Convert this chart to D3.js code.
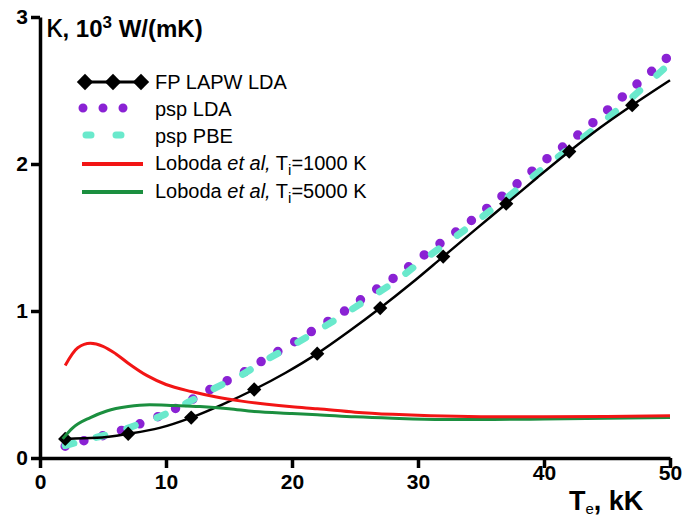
<!DOCTYPE html>
<html>
<head>
<meta charset="utf-8">
<script src="https://cdn.jsdelivr.net/npm/d3@7"></script>
<style>
    body { margin: 0; background: #fff; }
    svg { display: block; font-family: "Liberation Sans", Arial, sans-serif; }
</style>
</head>
<body>
<div id="chart"></div>
<script>
// ------------------------------------------------------------
// Data
// ------------------------------------------------------------
const xTicks = [0, 10, 20, 30, 40, 50];
const yTicks = [0, 1, 2, 3];

// FP LAPW LDA
const lapwX = [2, 4.5, 7, 9.5, 12, 14.5, 17, 19.5, 22, 24.5, 27, 29.5, 32, 34.5, 37, 39.5, 42, 44.5, 47, 50];
const lapwY = [0.13, 0.137, 0.165, 0.205, 0.275, 0.365, 0.466, 0.58, 0.71, 0.86, 1.02, 1.19, 1.37, 1.55, 1.73, 1.91, 2.085, 2.25, 2.40, 2.57];
const lapwMarkers = [2, 7, 12, 17, 22, 27, 32, 37, 42, 47];

// psp LDA / psp PBE
const pspX = [2, 4, 6, 8, 10, 12, 14, 16, 18, 20, 22, 24, 26, 28, 30, 32, 34, 36, 38, 40, 42, 44, 46, 48, 50];
const pspLdaY = [0.08, 0.13, 0.175, 0.235, 0.305, 0.395, 0.49, 0.575, 0.68, 0.78, 0.885, 0.99, 1.11, 1.22, 1.35, 1.475, 1.60, 1.735, 1.875, 2.02, 2.15, 2.29, 2.44, 2.59, 2.74];
const pspPbeY = [0.085, 0.13, 0.175, 0.235, 0.30, 0.39, 0.48, 0.565, 0.67, 0.765, 0.865, 0.97, 1.08, 1.19, 1.32, 1.445, 1.57, 1.70, 1.835, 1.975, 2.105, 2.24, 2.38, 2.53, 2.685];

// Loboda et al, Ti=1000 K
const lob1000X = [2, 3, 4, 5, 6, 7, 8.5, 10, 12, 14, 16, 18, 20, 22, 25, 28, 31, 35, 40, 45, 50];
const lob1000Y = [0.63, 0.75, 0.78, 0.76, 0.71, 0.645, 0.56, 0.50, 0.452, 0.415, 0.387, 0.365, 0.348, 0.335, 0.312, 0.297, 0.287, 0.281, 0.28, 0.282, 0.288];

// Loboda et al, Ti=5000 K
const lob5000X = [1.8, 2.6, 4, 5.3, 7, 8.7, 10.6, 12.7, 15, 17, 20, 22, 25, 28, 32, 36, 40, 45, 50];
const lob5000Y = [0.13, 0.205, 0.275, 0.32, 0.35, 0.362, 0.357, 0.35, 0.335, 0.316, 0.303, 0.295, 0.28, 0.27, 0.262, 0.262, 0.265, 0.27, 0.276];

// ------------------------------------------------------------
// Setup
// ------------------------------------------------------------
const width = 685, height = 519;

const svg = d3.select("#chart")
    .append("svg")
    .attr("width", width)
    .attr("height", height);

const xScale = d3.scaleLinear().domain([0, 50]).range([40, 670]);
const yScale = d3.scaleLinear().domain([0, 3]).range([458, 17]);

const line = d3.line()
    .x(d => xScale(d[0]))
    .y(d => yScale(d[1]))
    .curve(d3.curveMonotoneX);

const zip = (xs, ys) => xs.map((x, i) => [x, ys[i]]);

const colors = {
    lapw: "#000000",
    lda: "#8a22d4",
    pbe: "#6ae9cc",
    red: "#f21515",
    green: "#1b8f3f"
};

// ------------------------------------------------------------
// Axes
// ------------------------------------------------------------
const xAxis = svg.append("g")
    .attr("transform", `translate(0,${yScale(0)})`)
    .call(d3.axisBottom(xScale).tickValues(xTicks).tickFormat(d3.format("d"))
        .tickSize(10).tickPadding(6).tickSizeOuter(0));

const yAxis = svg.append("g")
    .attr("transform", `translate(${xScale(0)},0)`)
    .call(d3.axisLeft(yScale).tickValues(yTicks).tickFormat(d3.format("d"))
        .tickSize(9).tickPadding(3).tickSizeOuter(0));

[xAxis, yAxis].forEach(ax => {
    ax.select(".domain").attr("stroke", "#000").attr("stroke-width", 3.5);
    ax.selectAll(".tick line").attr("stroke", "#000").attr("stroke-width", 3.5);
    ax.selectAll(".tick text")
        .attr("fill", "#000")
        .attr("font-family", "'Liberation Sans', Arial, sans-serif")
        .attr("font-weight", "bold")
        .attr("font-size", "21px");
});
// the last two x labels sit a bit higher in the original
xAxis.selectAll(".tick text").filter(d => d >= 40).attr("dy", "0.3em");

// ------------------------------------------------------------
// Series
// ------------------------------------------------------------
svg.append("path")
    .datum(zip(pspX, pspLdaY))
    .attr("d", line)
    .attr("fill", "none")
    .attr("stroke", colors.lda)
    .attr("stroke-width", 9.5)
    .attr("stroke-linecap", "round")
    .attr("stroke-dasharray", "0,19.5");

svg.append("path")
    .datum(zip(pspX, pspPbeY))
    .attr("d", line)
    .attr("fill", "none")
    .attr("stroke", colors.pbe)
    .attr("stroke-width", 7)
    .attr("stroke-linecap", "round")
    .attr("stroke-dasharray", "9,23");

svg.append("path")
    .datum(zip(lapwX, lapwY))
    .attr("d", line)
    .attr("fill", "none")
    .attr("stroke", colors.lapw)
    .attr("stroke-width", 2.5);

svg.selectAll(".marker")
    .data(lapwMarkers.map(x => [x, lapwY[lapwX.indexOf(x)]]))
    .enter()
    .append("path")
    .attr("class", "marker")
    .attr("d", d3.symbol(d3.symbolDiamond2, 130))
    .attr("transform", d => `translate(${xScale(d[0])},${yScale(d[1])})`)
    .attr("fill", "#000");

svg.append("path")
    .datum(zip(lob5000X, lob5000Y))
    .attr("d", line)
    .attr("fill", "none")
    .attr("stroke", colors.green)
    .attr("stroke-width", 3);

svg.append("path")
    .datum(zip(lob1000X, lob1000Y))
    .attr("d", line)
    .attr("fill", "none")
    .attr("stroke", colors.red)
    .attr("stroke-width", 3);

// ------------------------------------------------------------
// Axis titles
// ------------------------------------------------------------
const yTitle = svg.append("text")
    .attr("x", 46)
    .attr("y", 37)
    .attr("font-weight", "bold")
    .attr("font-size", "24px")
    .attr("fill", "#000");
yTitle.append("tspan").attr("font-size", "33px").attr("font-weight", "normal").text("κ");
yTitle.append("tspan").text(", 10");
yTitle.append("tspan").attr("dy", -9).attr("font-size", "17px").text("3");
yTitle.append("tspan").attr("dy", 9).text(" W/(mK)");

const xTitle = svg.append("text")
    .attr("x", 569)
    .attr("y", 510)
    .attr("font-weight", "bold")
    .attr("font-size", "27px")
    .attr("fill", "#000");
xTitle.append("tspan").text("T");
xTitle.append("tspan").attr("dy", 4).attr("font-size", "15px").attr("font-weight", "normal").text("e");
xTitle.append("tspan").attr("dy", -4).text(", kK");

// ------------------------------------------------------------
// Legend
// ------------------------------------------------------------
const legendX0 = 82, legendX1 = 143, legendText = 155;
const rows = [89, 116, 143, 170, 198];

function lineSample(y, color, width, dash) {
    svg.append("line")
        .attr("x1", legendX0).attr("x2", legendX1)
        .attr("y1", y).attr("y2", y)
        .attr("stroke", color)
        .attr("stroke-width", width)
        .attr("stroke-linecap", dash ? "round" : "butt")
        .attr("stroke-dasharray", dash || null);
}

function legendLabel(y) {
    return svg.append("text")
        .attr("x", legendText)
        .attr("y", y)
        .attr("font-size", "20px")
        .attr("fill", "#000");
}

// FP LAPW LDA
lineSample(rows[0] - 7, "#000", 3);
[85, 113, 141].forEach(x => {
    svg.append("path")
        .attr("d", d3.symbol(d3.symbolDiamond2, 170))
        .attr("transform", `translate(${x},${rows[0] - 7})`)
        .attr("fill", "#000");
});
legendLabel(rows[0]).text("FP LAPW LDA");

// psp LDA
svg.append("line")
    .attr("x1", 83).attr("x2", 143)
    .attr("y1", rows[1] - 8).attr("y2", rows[1] - 8)
    .attr("stroke", colors.lda).attr("stroke-width", 9)
    .attr("stroke-linecap", "round").attr("stroke-dasharray", "0,20");
legendLabel(rows[1]).text("psp LDA");

// psp PBE
svg.append("line")
    .attr("x1", 86).attr("x2", 125)
    .attr("y1", rows[2] - 8).attr("y2", rows[2] - 8)
    .attr("stroke", colors.pbe).attr("stroke-width", 7)
    .attr("stroke-linecap", "round").attr("stroke-dasharray", "5,25");
legendLabel(rows[2]).text("psp PBE");

// Loboda
[[rows[3], colors.red, "1000"], [rows[4], colors.green, "5000"]].forEach(([y, c, t]) => {
    lineSample(y - 6, c, 4);
    const lbl = legendLabel(y);
    lbl.append("tspan").text("Loboda ");
    lbl.append("tspan").attr("font-style", "italic").text("et al,");
    lbl.append("tspan").text(" T");
    lbl.append("tspan").attr("dy", 5).attr("font-size", "15px").text("i");
    lbl.append("tspan").attr("dy", -5).text("=" + t + " K");
});
</script>
</body>
</html>
